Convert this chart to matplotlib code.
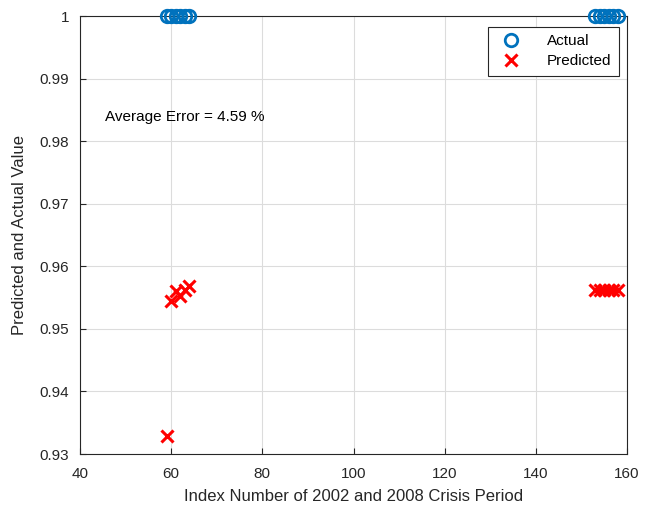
import matplotlib
matplotlib.use("Agg")
import matplotlib.pyplot as plt

plt.rcParams['font.family'] = ['Liberation Sans', 'DejaVu Sans']

idx_a = [59, 60, 61, 62, 63, 64]
idx_b = [153, 154, 155, 156, 157, 158]
actual_a = [1, 1, 1, 1, 1, 1]
actual_b = [1, 1, 1, 1, 1, 1]
pred_a = [0.9328, 0.9545, 0.9560, 0.9552, 0.9562, 0.9568]
pred_b = [0.9562, 0.9562, 0.9562, 0.9562, 0.9562, 0.9562]

fig = plt.figure(figsize=(6.59, 5.09), dpi=100)
ax = fig.add_axes([80/659, 1-454/509, 547/659, 438/509])

blue = (0, 0.447, 0.741)
ax.plot(idx_a + idx_b, actual_a + actual_b, 'o', color=blue, mfc='none',
        mew=2, ms=9, label='Actual', clip_on=False, zorder=5)
ax.plot(idx_a + idx_b, pred_a + pred_b, 'x', color='red', mew=2.2, ms=8,
        label='Predicted', clip_on=False, zorder=5)

ax.set_xlim(40, 160)
ax.set_ylim(0.93, 1)
ax.set_xticks(range(40, 161, 20))
ax.set_yticks([0.93, 0.94, 0.95, 0.96, 0.97, 0.98, 0.99, 1])
ax.set_yticklabels(['0.93', '0.94', '0.95', '0.96', '0.97', '0.98', '0.99', '1'])
ax.grid(True, color='#dcdcdc', lw=0.8)
ax.set_axisbelow(True)
ax.tick_params(direction='in', labelsize=11, colors='#262626', length=4)
ax.tick_params(axis='x', pad=9)
ax.tick_params(axis='y', pad=8)
for s in ax.spines.values():
    s.set_color('#262626')
    s.set_linewidth(0.8)

ax.set_xlabel('Index Number of 2002 and 2008 Crisis Period', fontsize=12, color='#262626',
              labelpad=6)
ax.set_ylabel('Predicted and Actual Value', fontsize=12, color='#262626', labelpad=9)
ax.text(45.5, 0.9838, 'Average Error = 4.59 %', fontsize=11, va='center')

leg = ax.legend(loc='upper right', fontsize=11, fancybox=False, edgecolor='#262626',
                framealpha=1, bbox_to_anchor=(0.986, 0.976), borderaxespad=0,
                handletextpad=1.4, handlelength=2.0, borderpad=0.5, labelspacing=0.4)
leg.get_frame().set_linewidth(0.8)

fig.savefig('out.png', dpi=100)
